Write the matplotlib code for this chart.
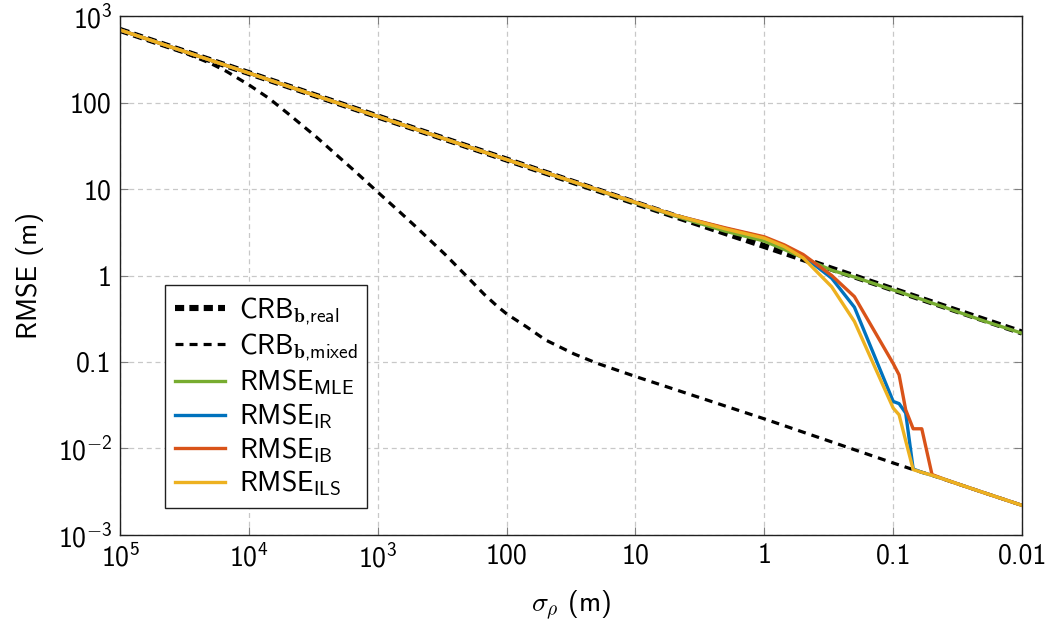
import matplotlib
matplotlib.use('Agg')
import matplotlib.pyplot as plt

plt.rcParams['font.family'] = 'cmss10'
plt.rcParams['mathtext.fontset'] = 'custom'
plt.rcParams['mathtext.rm'] = 'cmss10'
plt.rcParams['mathtext.sf'] = 'cmss10'
plt.rcParams['mathtext.bf'] = 'cmb10'
plt.rcParams['axes.unicode_minus'] = False

# CRB, real-valued ambiguities
sig_real = [1e5, 1e4, 1e3, 100, 10, 1, 0.1, 0.01]
crb_real = [690, 219, 69, 21.9, 6.9, 2.19, 0.69, 0.219]

# CRB, mixed (integer) ambiguities
sig_mixed = [1e5, 5e4, 3e4, 2e4, 1.5e4, 1e4, 7e3, 5e3, 3e3, 2e3, 1.5e3, 1e3,
             700, 500, 300, 200, 150, 120, 100, 80, 70, 50, 30, 20, 10, 1,
             0.1, 0.07, 0.05, 0.02, 0.01]
crb_mixed = [690, 485, 365, 285, 230, 160, 112, 75, 40, 23.4, 16, 9.2,
             5.7, 3.6, 1.75, 0.95, 0.61, 0.45, 0.36, 0.29, 0.255, 0.18, 0.124,
             0.097, 0.068, 0.022, 0.0068, 0.0057, 0.0049, 0.0031, 0.0022]

# estimators
sig_est = [1e5, 1e4, 1e3, 100, 10, 5, 2, 1, 0.7, 0.5, 0.3, 0.2, 0.1, 0.09,
           0.08, 0.07, 0.06, 0.05, 0.04, 0.03, 0.02, 0.01]
rmse_mle = [690, 219, 69, 21.9, 6.9, 4.9, 3.25, 2.5, 2.0, 1.6, 1.15, 0.96,
            0.68, 0.65, 0.61, 0.57, 0.53, 0.48, 0.43, 0.37, 0.3, 0.215]
rmse_ir = [690, 219, 69, 21.9, 7.0, 5.0, 3.5, 2.75, 2.2, 1.68, 0.93, 0.43,
           0.035, 0.033, 0.0257, 0.0058, 0.0053, 0.0049, 0.0044, 0.0038,
           0.0031, 0.0022]
rmse_ib = [690, 219, 69, 21.9, 7.0, 5.0, 3.55, 2.8, 2.26, 1.75, 1.0, 0.57,
           0.096, 0.071, 0.028, 0.0169, 0.0169, 0.0050, 0.0044, 0.0038,
           0.0031, 0.0022]
rmse_ils = [690, 219, 69, 21.9, 7.0, 5.0, 3.45, 2.7, 2.16, 1.6, 0.74, 0.294,
            0.0293, 0.0245, 0.0123, 0.0057, 0.0053, 0.0049, 0.0044, 0.0038,
            0.0031, 0.0022]

xticks = [1e5, 1e4, 1e3, 100, 10, 1, 0.1, 0.01]
xlabels = ['$10^5$', '$10^4$', '$10^3$', '100', '10', '1', '0.1', '0.01']
yticks = [1e-3, 1e-2, 0.1, 1, 10, 100, 1e3]
ylabels = ['$10^{-3}$', '$10^{-2}$', '0.1', '1', '10', '100', '$10^3$']

fig = plt.figure(figsize=(10.54, 6.26), dpi=100)
ax = fig.add_axes([0.1139, 0.1454, 0.8558, 0.829])

ax.plot(sig_real, crb_real, color='black', lw=4.4, dashes=(1.5, 0.85),
        label=r'CRB$_{\mathbf{b}{,}\mathrm{real}}$')
ax.plot(sig_mixed, crb_mixed, color='black', lw=2.3, dashes=(2.5, 1.9),
        label=r'CRB$_{\mathbf{b}{,}\mathrm{mixed}}$')
ax.plot(sig_est, rmse_mle, color='#77AC30', lw=2.4, label=r'RMSE$_{\mathrm{MLE}}$')
ax.plot(sig_est, rmse_ir, color='#0072BD', lw=2.4, label=r'RMSE$_{\mathrm{IR}}$')
ax.plot(sig_est, rmse_ib, color='#D95319', lw=2.4, label=r'RMSE$_{\mathrm{IB}}$')
ax.plot(sig_est, rmse_ils, color='#EDB120', lw=2.4, label=r'RMSE$_{\mathrm{ILS}}$')

ax.set_xscale('log')
ax.set_yscale('log')
ax.set_xlim(1e5, 0.01)
ax.set_ylim(1e-3, 1e3)
ax.set_xticks(xticks)
ax.set_xticklabels(xlabels)
ax.set_yticks(yticks)
ax.set_yticklabels(ylabels)
ax.minorticks_off()
ax.tick_params(direction='in', length=6, width=0.8, color='#808080',
               top=True, right=True, labelsize=20, pad=6)
ax.grid(True, color='#c8c8c8', linestyle=(0, (4, 3)), lw=0.9)
for s in ax.spines.values():
    s.set_color('#202020')
    s.set_linewidth(1.0)

ax.set_xlabel(r'$\sigma_\rho$ (m)', fontsize=20, math_fontfamily='cm', labelpad=12)
ax.set_ylabel('RMSE (m)', fontsize=20, labelpad=10)

leg = ax.legend(loc='lower left', bbox_to_anchor=(0.05, 0.052), fontsize=20,
                fancybox=False, edgecolor='#202020', framealpha=1,
                handlelength=1.8, labelspacing=0.15, borderpad=0.35,
                handletextpad=0.5, borderaxespad=0)
leg.get_frame().set_linewidth(1.0)

fig.savefig('out.png', dpi=100)
